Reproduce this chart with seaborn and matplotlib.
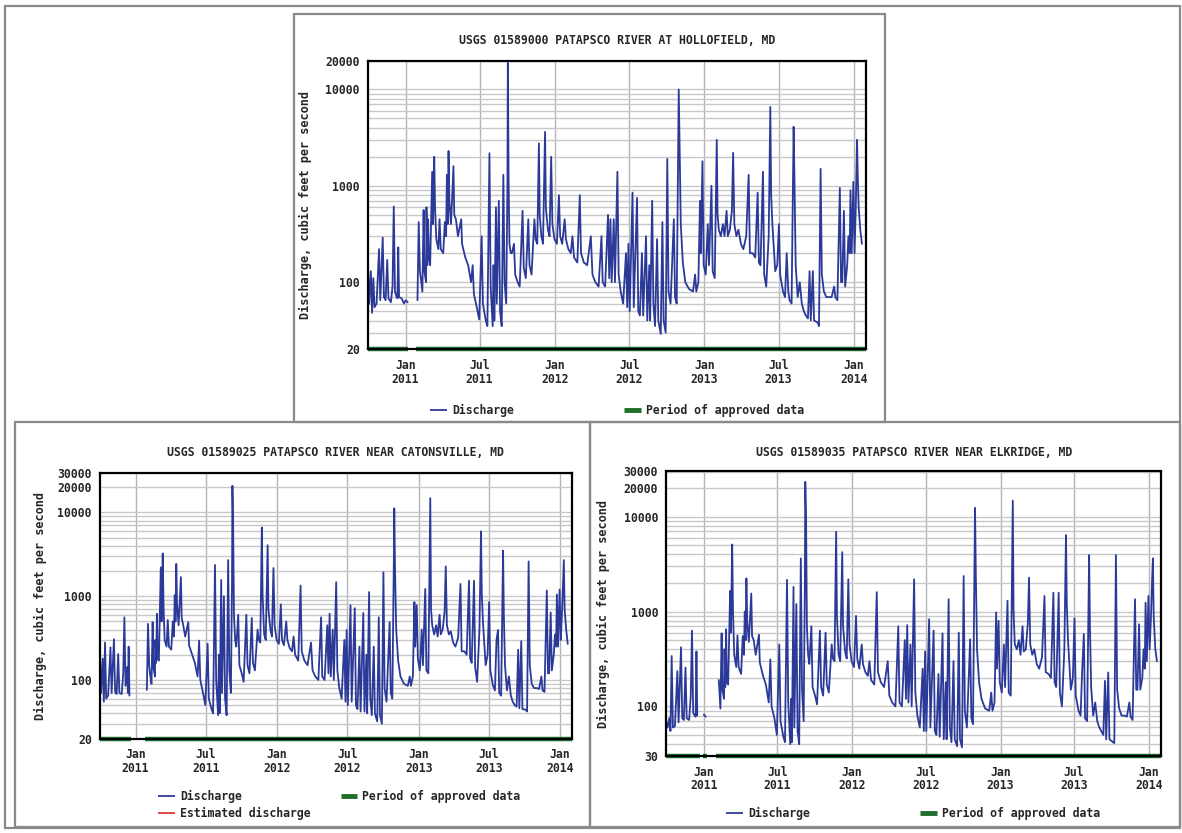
import numpy as np
import pandas as pd
import matplotlib
matplotlib.use("Agg")
import matplotlib.pyplot as plt
import matplotlib.dates as mdates
from matplotlib.ticker import FixedLocator, FixedFormatter, LogLocator, NullFormatter, FuncFormatter
from matplotlib.lines import Line2D
from matplotlib.patches import Rectangle
import seaborn as sns

# ---------------- data ----------------
START = "2010-10-01"
END = "2014-01-31"
nan = np.nan

# day of record, counted from START
day_of_record = [
    0, 3, 7, 10, 13, 16, 21, 27, 30, 36, 39, 43, 47, 50, 56, 60, 63, 66, 70, 72, 74, 76, 82, 88, 92, 97, 110,
    121, 124, 127, 129, 133, 136, 138, 142, 143, 145, 147, 149, 152, 157, 159, 162, 164, 167, 172, 175, 178,
    184, 188, 191, 193, 195, 197, 199, 203, 209, 211, 215, 220, 228, 230, 238, 245, 252, 256, 259, 266, 272,
    278, 281, 288, 292, 297, 300, 305, 307, 309, 313, 315, 320, 323, 327, 331, 334, 338, 341, 342, 344, 346,
    349, 352, 357, 360, 366, 371, 378, 381, 386, 392, 395, 400, 407, 410, 414, 418, 420, 424, 428, 433, 435,
    440, 444, 448, 451, 456, 462, 467, 470, 475, 481, 484, 490, 496, 500, 504, 512, 518, 521, 528, 536, 545,
    549, 556, 564, 571, 574, 580, 587, 590, 593, 596, 601, 604, 610, 613, 618, 624, 631, 634, 637, 640, 647,
    650, 658, 661, 665, 670, 673, 680, 683, 688, 690, 695, 698, 702, 707, 710, 716, 720, 723, 728, 732, 735,
    740, 748, 751, 755, 759, 760, 762, 765, 770, 776, 785, 795, 800, 803, 808, 812, 814, 818, 821, 826, 831,
    834, 840, 843, 848, 853, 855, 858, 863, 868, 872, 877, 880, 885, 890, 893, 896, 901, 906, 912, 918, 925,
    931, 934, 941, 947, 953, 956, 960, 966, 969, 974, 980, 984, 986, 989, 996, 1001, 1005, 1008, 1015, 1020,
    1024, 1028, 1031, 1036, 1041, 1043, 1046, 1051, 1056, 1061, 1066, 1071, 1076, 1080, 1083, 1088, 1091,
    1100, 1103, 1107, 1110, 1115, 1121, 1128, 1134, 1140, 1143, 1148, 1154, 1157, 1160, 1164, 1167, 1172,
    1175, 1178, 1180, 1183, 1187, 1190, 1193, 1196, 1198, 1200, 1204, 1208,
]

q_hollofield = [
    150, 60, 130, 48, 110, 55, 60, 220, 65, 290, 70, 65, 170, 68, 62, 90, 610, 80, 70, 68, 230, 70, 68, 60, 65, 62, nan,
    65, 420, 130, 110, 80, 560, 130, 100, 600, 150, 450, 180, 150, 1400, 400, 2000, 600, 280, 220, 450, 220,
    200, 420, 300, 1300, 400, 2300, 700, 400, 1600, 500, 450, 300, 450, 250, 180, 150, 100, 150, 75, 55, 41,
    300, 60, 40, 35, 2180, 90, 35, 150, 40, 600, 60, 700, 50, 35, 1300, 100, 60, 1000, 18900, 1000, 250,
    200, 200, 250, 120, 100, 90, 550, 140, 110, 450, 150, 120, 450, 280, 250, 2760, 500, 300, 250, 3630, 600,
    350, 300, 2000, 400, 280, 250, 800, 300, 250, 450, 280, 220, 200, 300, 180, 160, 800, 200, 160, 150, 300,
    120, 100, 90, 300, 100, 90, 500, 110, 450, 100, 450, 100, 1400, 120, 80, 60, 200, 55, 250, 50, 850,
    55, 750, 50, 45, 200, 45, 300, 40, 150, 40, 700, 60, 35, 280, 40, 29, 420, 40, 30, 1900, 80,
    60, 450, 70, 60, 3000, 10000, 2800, 400, 160, 100, 85, 80, 120, 80, 100, 700, 200, 1800, 150, 120, 400,
    150, 1000, 130, 110, 3000, 500, 350, 300, 400, 300, 550, 300, 350, 550, 2200, 400, 300, 350, 250, 220, 300,
    1300, 200, 200, 180, 850, 160, 150, 1400, 120, 90, 300, 6600, 800, 400, 130, 150, 400, 120, 80, 70,
    200, 80, 65, 60, 4100, 1200, 150, 70, 100, 60, 50, 45, 42, 130, 40, 130, 40,
    38, 35, 1500, 120, 80, 70, 70, 70, 90, 70, 65, 950, 100, 100, 550, 90, 150,
    300, 200, 900, 200, 1100, 200, 600, 3000, 1200, 600, 350, 250,
]

q_catonsville = [
    200, 70, 180, 55, 280, 60, 65, 245, 70, 307, 72, 68, 204, 70, 68, 120, 560, 85, 142, 70, 250, 65, nan, nan, nan, nan, nan,
    76, 467, 150, 120, 90, 490, 140, 110, 300, 160, 616, 180, 170, 2210, 500, 3240, 800, 300, 250, 520, 250,
    230, 500, 330, 1030, 500, 2430, 800, 450, 1690, 550, 450, 330, 490, 260, 200, 160, 110, 295, 100, 70, 50,
    270, 60, 45, 40, 2360, 100, 38, 200, 40, 1560, 70, 1000, 60, 38, 2700, 130, 70, 1500, 20800, 6000, 600,
    300, 250, 600, 150, 120, 95, 600, 150, 120, 550, 160, 130, 400, 300, 280, 6600, 1000, 350, 300, 4060, 700,
    400, 330, 2170, 450, 300, 270, 800, 300, 260, 500, 300, 240, 220, 330, 200, 170, 1340, 220, 170, 150, 280,
    130, 110, 100, 560, 110, 100, 450, 120, 620, 110, 400, 100, 1470, 130, 80, 60, 300, 55, 395, 50, 780,
    55, 720, 50, 45, 250, 42, 630, 42, 200, 40, 1120, 60, 38, 250, 40, 32, 560, 38, 30, 1930, 80,
    55, 490, 70, 60, 3000, 11200, 2000, 400, 170, 110, 90, 85, 110, 85, 110, 850, 250, 780, 180, 130, 400,
    150, 1220, 130, 120, 14800, 700, 450, 350, 450, 330, 600, 350, 400, 650, 2270, 450, 350, 380, 280, 250, 320,
    1400, 220, 220, 200, 1530, 180, 160, 1530, 140, 95, 400, 5940, 1100, 500, 150, 200, 850, 130, 85, 75,
    300, 395, 70, 65, 3500, 600, 150, 75, 110, 65, 55, 50, 48, 230, 46, 290, 45,
    44, 42, 2600, 150, 90, 80, 80, 78, 110, 75, 72, 1170, 120, 120, 640, 130, 200,
    350, 250, 1050, 250, 1200, 300, 600, 1500, 2700, 700, 400, 270,
]

q_elkridge = [
    68, 60, 75, 55, 340, 60, 62, 235, 68, 420, 75, 72, 257, 75, 72, 130, 630, 85, 80, 78, 380, 80, nan, nan, 82, 78, nan,
    nan, nan, nan, 190, 95, 590, 150, 120, 400, 160, 650, 180, 170, 1650, 600, 5100, 1000, 350, 260, 560, 260,
    220, 550, 350, 1000, 500, 2240, 800, 480, 1550, 550, 500, 350, 570, 290, 210, 170, 110, 313, 100, 75, 50,
    450, 70, 48, 42, 2160, 110, 40, 120, 42, 1820, 60, 1200, 55, 40, 3640, 150, 70, 2000, 23300, 9400, 700,
    350, 280, 700, 160, 130, 105, 630, 160, 130, 600, 170, 140, 450, 320, 300, 6950, 900, 350, 300, 4240, 700,
    380, 320, 2190, 450, 300, 260, 900, 320, 250, 450, 280, 230, 210, 300, 190, 170, 1600, 230, 180, 160, 300,
    130, 110, 100, 700, 110, 100, 500, 120, 720, 110, 450, 100, 2190, 140, 80, 60, 250, 55, 380, 55, 830,
    60, 630, 55, 50, 220, 48, 590, 45, 180, 45, 1350, 60, 42, 300, 45, 38, 600, 45, 37, 2370, 90,
    60, 510, 75, 65, 3500, 12400, 2500, 400, 180, 120, 95, 90, 140, 90, 110, 980, 250, 800, 180, 140, 450,
    160, 1300, 140, 130, 14800, 1000, 450, 400, 500, 350, 700, 380, 400, 750, 2280, 450, 350, 400, 280, 250, 330,
    1460, 230, 220, 200, 1580, 180, 160, 1580, 140, 100, 400, 6400, 1200, 500, 150, 200, 850, 130, 90, 80,
    250, 580, 75, 70, 3950, 700, 160, 80, 110, 70, 60, 55, 50, 186, 45, 228, 45,
    42, 41, 3950, 150, 95, 80, 80, 78, 110, 78, 72, 1350, 150, 150, 735, 150, 200,
    400, 250, 1240, 300, 1460, 400, 800, 2100, 3640, 900, 400, 300,
]

# periods of approved data (start day, end day), counted from START
approved_hollofield = [(0, 99), (117, 1218)]
approved_catonsville = [(0, 80), (116, 1218)]
approved_elkridge = [(0, 82), (89, 99), (121, 1218)]

titles = [
    "USGS 01589000 PATAPSCO RIVER AT HOLLOFIELD, MD",
    "USGS 01589025 PATAPSCO RIVER NEAR CATONSVILLE, MD",
    "USGS 01589035 PATAPSCO RIVER NEAR ELKRIDGE, MD",
]
ylims = [(20, 20000), (20, 30000), (30, 30000)]
yticks_list = [
    [20, 100, 1000, 10000, 20000],
    [20, 100, 1000, 10000, 20000, 30000],
    [30, 100, 1000, 10000, 20000, 30000],
]
ylabel = "Discharge, cubic feet per second"

# ---------------- style ----------------
sns.set_style("white")
plt.rcParams["font.family"] = ["DejaVu Sans Mono", "DejaVu Sans"]
plt.rcParams["font.weight"] = "bold"
FS = 8.3
BLUE = "#2b3a98"
GREEN = "#1f6f2a"
GRID = "#c8c8c8"
FRAME = "#8a8a8a"

W, H = 1182, 833
fig = plt.figure(figsize=(W / 100, H / 100), dpi=100)
fig.patch.set_facecolor("white")


def fx(x):
    return x / W


def fy(y):
    return 1 - y / H


# frames (outer and around each panel)
for (x0, y0, x1, y1) in [(5, 6, 1180, 828), (294, 14, 885, 422), (15, 422, 590, 827), (590, 422, 1180, 827)]:
    fig.add_artist(Rectangle((fx(x0), fy(y1)), fx(x1) - fx(x0), fy(y0) - fy(y1),
                             transform=fig.transFigure, fill=False, edgecolor=FRAME, lw=1.6))

# axes boxes in pixels: left, right, top, bottom
boxes = [(368, 866, 60.5, 349.5), (100, 571.6, 472.5, 738.5), (666.4, 1161, 471.5, 756)]
series = [q_hollofield, q_catonsville, q_elkridge]
approved = [approved_hollofield, approved_catonsville, approved_elkridge]
title_y = [40, 453, 452]
ylabel_off = [56, 53, 56.5]
legend_pos = [(430, 411.5), (158, 797.5), (726, 814)]
colspace = [9.6, 2.6, 9.6]

start = pd.Timestamp(START)
dates = start + pd.to_timedelta(day_of_record, unit="D")

for i in range(3):
    l, r, t, b = boxes[i]
    ax = fig.add_axes([fx(l), fy(b), fx(r) - fx(l), fy(t) - fy(b)])
    q = np.array(series[i], dtype=float)
    seg = np.cumsum(np.isnan(q))
    df = pd.DataFrame({"date": dates, "q": q, "seg": seg}).dropna()
    sns.lineplot(data=df, x="date", y="q", units="seg", estimator=None, sort=False,
                 color=BLUE, lw=1.3, ax=ax, legend=False, zorder=3)
    ax.set_yscale("log")
    ax.set_ylim(*ylims[i])
    ax.set_xlim(pd.Timestamp(START), pd.Timestamp(END))

    # approved data bar along the bottom
    for (s, e) in approved[i]:
        ax.hlines(ylims[i][0], start + pd.Timedelta(days=s), start + pd.Timedelta(days=e),
                  color=GREEN, lw=3.2, clip_on=False, zorder=4, capstyle="butt")

    yt = yticks_list[i]
    ax.yaxis.set_major_locator(FixedLocator(yt))
    ax.yaxis.set_major_formatter(FixedFormatter([str(v) for v in yt]))
    ax.yaxis.set_minor_locator(LogLocator(base=10, subs=np.arange(1, 10), numticks=50))
    ax.yaxis.set_minor_formatter(NullFormatter())
    ax.xaxis.set_major_locator(mdates.MonthLocator(bymonth=[1, 7]))
    ax.xaxis.set_major_formatter(FuncFormatter(
        lambda v, pos: mdates.num2date(v).strftime("%b") + "\n" + mdates.num2date(v).strftime("%Y")))

    ax.grid(True, which="both", axis="y", color=GRID, lw=1.0, zorder=0)
    ax.grid(True, which="major", axis="x", color="#b4b4b4", lw=1.0, zorder=0)
    ax.set_axisbelow(True)
    ax.tick_params(axis="both", which="both", length=0, labelsize=FS)
    ax.tick_params(axis="y", pad=6)
    ax.tick_params(axis="x", pad=7)
    for lab in ax.get_xticklabels():
        lab.set_linespacing(1.05)
        lab.set_fontweight("bold")
    for lab in ax.get_yticklabels():
        lab.set_fontweight("bold")
    for sp in ax.spines.values():
        sp.set_color("black")
        sp.set_linewidth(1.6)
        sp.set_zorder(5)
    ax.set_xlabel("")
    ax.set_ylabel(ylabel, fontsize=FS + 0.3, fontweight="bold")
    ax.yaxis.set_label_coords(-ylabel_off[i] / (r - l), 0.5)

    fig.text(fx((l + r) / 2), fy(title_y[i]), titles[i], ha="center", va="center",
             fontsize=FS, fontweight="bold")

    handles = [Line2D([], [], color=BLUE, lw=1.3, solid_capstyle="butt")]
    labels = ["Discharge"]
    if i == 1:
        handles.append(Line2D([], [], color="#e0383b", lw=1.3, solid_capstyle="butt"))
        labels.append("Estimated discharge")
    handles.append(Line2D([], [], color=GREEN, lw=3.5, solid_capstyle="butt"))
    labels.append("Period of approved data")
    lx, ly = legend_pos[i]
    leg = fig.legend(handles, labels, ncol=2, loc="upper left",
                     bbox_to_anchor=(fx(lx), fy(ly - 7.5)), bbox_transform=fig.transFigure,
                     frameon=False, fontsize=FS, borderpad=0, borderaxespad=0,
                     handlelength=1.45, handletextpad=0.45, labelspacing=0.3,
                     columnspacing=colspace[i])
    for txt in leg.get_texts():
        txt.set_fontweight("bold")

fig.savefig("out.png", dpi=100, facecolor="white")
